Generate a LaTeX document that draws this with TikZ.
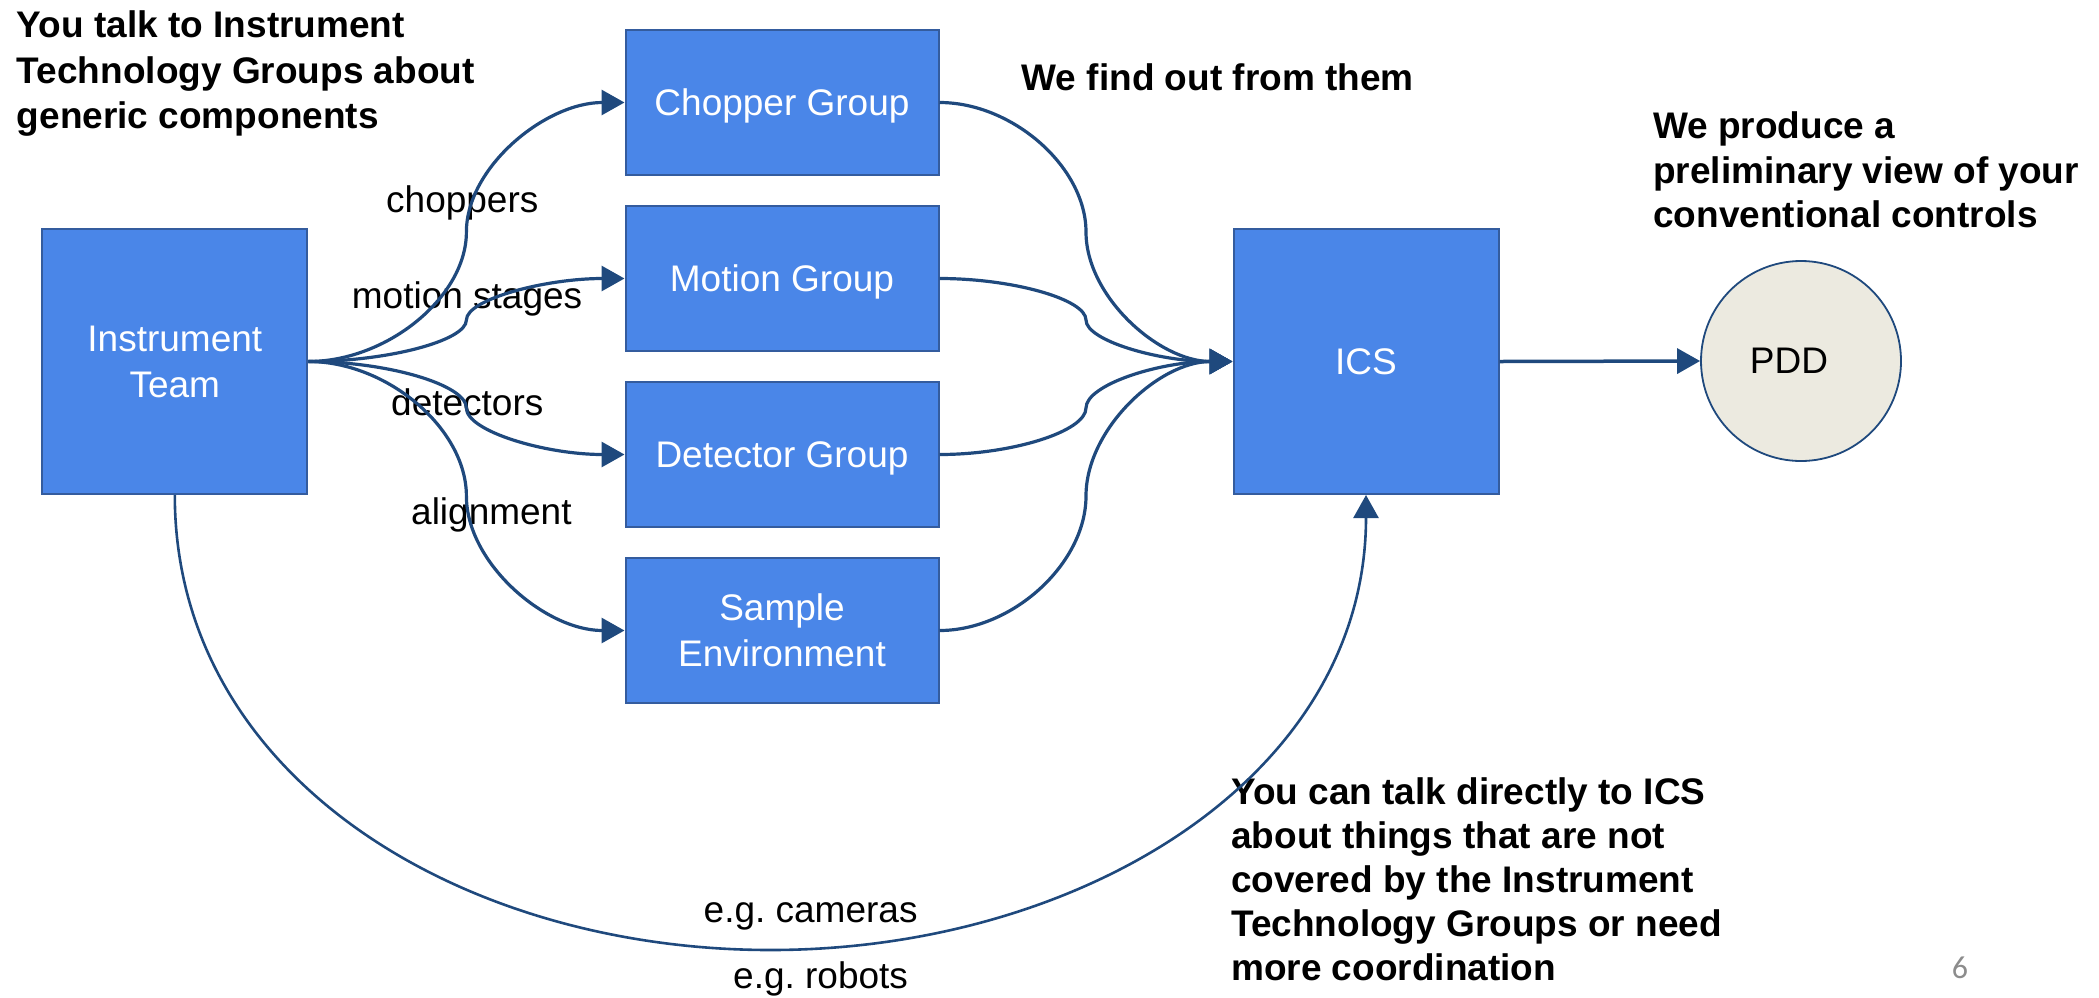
\documentclass[tikz,border=0pt]{standalone}
\usepackage{fontspec}
\setmainfont{Liberation Sans}
\newfontfamily\pagenumfont{Carlito}
\usetikzlibrary{arrows.meta,calc}
\frenchspacing

\definecolor{boxblue}{RGB}{74,134,232}
\definecolor{boxedge}{RGB}{52,92,158}
\definecolor{linknavy}{RGB}{31,73,125}
\definecolor{pddfill}{RGB}{236,234,224}
\definecolor{pagegray}{RGB}{140,140,140}

\newcommand\mainsz{\fontsize{37pt}{46pt}\selectfont}
\newcommand\topstrut{\rule{0pt}{28pt}}

% S-shaped elbow curve between two anchors: horizontal at both ends,
% vertical at the half-way point
\newcommand\sconn[3][]{%
  \draw[link,#1] let \p1=(#2), \p2=(#3) in
    (\p1) .. controls ({(3*\x1+\x2)/4},\y1) and ({(\x1+\x2)/2},{(3*\y1+\y2)/4})
    .. ({(\x1+\x2)/2},{(\y1+\y2)/2})
    .. controls ({(\x1+\x2)/2},{(\y1+3*\y2)/4}) and ({(\x1+3*\x2)/4},\y2) .. (\p2);}

\tikzset{
  grp/.style={draw=boxedge, line width=2pt, fill=boxblue, text=white,
    minimum width=313pt, minimum height=145pt, inner sep=0pt,
    align=center, font=\mainsz},
  oneline/.style={text height=33.5pt, text depth=7.8pt},
  bigbox/.style={grp, minimum width=265pt, minimum height=265pt},
  pdd/.style={circle, draw=linknavy, line width=1.8pt, fill=pddfill,
    minimum size=200pt, inner sep=0pt, oneline, font=\mainsz},
  link/.style={draw=linknavy, line width=3.2pt,
    -{Triangle[length=23pt,width=25pt]}},
  lbl/.style={inner sep=0pt, font=\mainsz, anchor=base west},
  note/.style={inner sep=0pt, align=left, anchor=north west,
    font=\bfseries\fontsize{37pt}{#1}\selectfont},
  note/.default=45pt,
}

\begin{document}
\begin{tikzpicture}[x=1pt, y=-1pt]
  \useasboundingbox (0,0) rectangle (2099,997);

  % blocks
  \node[bigbox] (it)  at (174.8,361.5) {Instrument\\Team};
  \node[grp, oneline]    (cg)  at (782,102.5)   {Chopper Group};
  \node[grp, oneline]    (mg)  at (782,278.5)   {Motion Group};
  \node[grp, oneline]    (dg)  at (782,454.5)   {Detector Group};
  \node[grp]    (se)  at (782,630.5)   {Sample\\Environment};
  \node[bigbox, oneline] (ics) at (1366,361.5)  {ICS};
  \node[pdd]    (pdd) at (1801,361)    {PDD\hspace*{24pt}};
  \coordinate (dip) at (770.5,950);

  % edge labels
  \node[lbl] (lch) at (386,212)   {choppers};
  \node[lbl] (lmo) at (351.7,308.5) {motion stages};
  \node[lbl] (lde) at (391,415)   {detectors};
  \node[lbl] (lal) at (411,524)   {alignment};
  \node[lbl] (lca) at (703.5,922) {e.g. cameras};
  \node[lbl] (lro) at (733,988)   {e.g. robots};

  % annotations
  \node[note=45.5pt] (n1) at (16.7,9.3)
    {\topstrut You talk to Instrument\\Technology Groups about\\generic components};
  \node[note, anchor=base west] (n2) at (1021.5,90.4) {We find out from them};
  \node[note=44.7pt] (n3) at (1653,110.3)
    {\topstrut We produce a\\preliminary view of your\\conventional controls};
  \node[note=44pt] (n4) at (1231,776)
    {\topstrut You can talk directly to ICS\\about things that are not\\covered by the Instrument\\Technology Groups or need\\more coordination};
  \node[inner sep=0pt, anchor=base, text=pagegray,
        font=\pagenumfont\fontsize{32pt}{38pt}\selectfont] (pg) at (1960,978) {6};

  % fan-out to the technology groups
  \sconn{it.east}{cg.west}
  \sconn{it.east}{mg.west}
  \sconn{it.east}{dg.west}
  \sconn{it.east}{se.west}

  % gathering into ICS
  \sconn{cg.east}{ics.west}
  \sconn{mg.east}{ics.west}
  \sconn{dg.east}{ics.west}
  \sconn{se.east}{ics.west}

  % ICS to PDD
  \draw[link, line width=3.5pt] (ics.east) -- (pdd.west);

  % direct route from the team to ICS
  \draw[link, line width=2.6pt] let \p1=(it.south), \p2=(dip), \p3=(ics.south) in
    (\p1) .. controls (\x1,{\y1+0.62*(\y2-\y1)}) and ({\x2+0.52*(\x1-\x2)},\y2) .. (\p2)
    .. controls ({\x2+0.52*(\x3-\x2)},\y2) and (\x3,{\y3+0.62*(\y2-\y3)}) .. (\p3);
\end{tikzpicture}
\end{document}
